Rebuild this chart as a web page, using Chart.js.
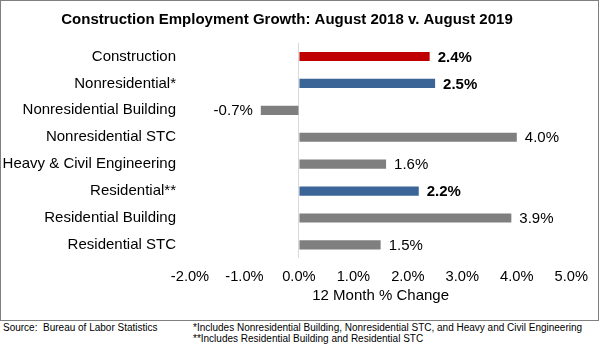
<!DOCTYPE html>
<html lang="en">

<head>
  <meta charset="UTF-8">
  <title>Construction Employment Growth</title>
  <script src="https://cdn.jsdelivr.net/npm/chart.js"></script>
  <style>
    body { margin: 0; background: #fff; font-family: Arial, 'Liberation Sans', sans-serif; }
    .chart-box { position: absolute; left: 0; top: 0; width: 597px; height: 319px; border: 1px solid #7f7f7f; }
    .note { position: absolute; font-size: 10px; line-height: 12px; color: #000; white-space: nowrap; }
  </style>
</head>

<body>
  <div class="chart-box"><canvas id="growthChart" width="597" height="319"></canvas></div>
  <div class="note" style="left: 3px; top: 322px;">Source:&nbsp; Bureau of Labor Statistics</div>
  <div class="note" style="left: 193px; top: 322px;">*Includes Nonresidential Building, Nonresidential STC, and Heavy and Civil Engineering</div>
  <div class="note" style="left: 193px; top: 333px;">**Includes Residential Building and Residential STC</div>

  <script>
    const categories = ['Construction', 'Nonresidential*', 'Nonresidential Building', 'Nonresidential STC',
      'Heavy & Civil Engineering', 'Residential**', 'Residential Building', 'Residential STC'];
    const changes = [2.4, 2.5, -0.7, 4.0, 1.6, 2.2, 3.9, 1.5];
    const groups = ['total', 'sub', 'detail', 'detail', 'detail', 'sub', 'detail', 'detail'];
    const xTicks = [-2, -1, 0, 1, 2, 3, 4, 5];

    const groupColor = { total: '#c00000', sub: '#3b6497', detail: '#7f7f7f' };
    const fontFamily = "Arial, 'Liberation Sans', sans-serif";

    // draws the % value next to each bar, bold for the totals
    const valueLabels = {
      id: 'valueLabels',
      afterDatasetsDraw(chart) {
        const ctx = chart.ctx;
        const meta = chart.getDatasetMeta(0);
        ctx.save();
        ctx.fillStyle = '#000';
        ctx.textBaseline = 'middle';
        meta.data.forEach((bar, i) => {
          const v = changes[i];
          const bold = groups[i] !== 'detail';
          ctx.font = (bold ? 'bold ' : '') + '15px ' + fontFamily;
          ctx.textAlign = v < 0 ? 'right' : 'left';
          ctx.fillText(v.toFixed(1) + '%', bar.x + (v < 0 ? -8 : 8), bar.y + 1);
        });
        ctx.restore();
      }
    };

    new Chart(document.getElementById('growthChart'), {
      type: 'bar',
      data: {
        labels: categories,
        datasets: [{
          data: changes,
          backgroundColor: groups.map(g => groupColor[g]),
          barPercentage: 0.34,
          categoryPercentage: 1
        }]
      },
      options: {
        indexAxis: 'y',
        responsive: false,
        animation: false,
        layout: { padding: { right: 25, bottom: 15 } },
        plugins: {
          legend: { display: false },
          tooltip: { enabled: false },
          title: {
            display: true,
            text: 'Construction Employment Growth: August 2018 v. August 2019',
            color: '#000',
            font: { family: fontFamily, size: 15, weight: 'bold' },
            padding: { top: 10, bottom: 14 }
          }
        },
        scales: {
          x: {
            min: xTicks[0],
            max: xTicks[xTicks.length - 1],
            afterBuildTicks: axis => { axis.ticks = xTicks.map(v => ({ value: v })); },
            ticks: {
              color: '#000',
              padding: 10,
              font: { family: fontFamily, size: 14.7 },
              callback: v => v.toFixed(1) + '%'
            },
            grid: {
              drawTicks: false,
              color: c => c.tick && c.tick.value === 0 ? '#d9d9d9' : 'transparent'
            },
            border: { display: false },
            title: {
              display: true,
              text: '12 Month % Change',
              color: '#000',
              font: { family: fontFamily, size: 15 },
              padding: { top: -9, bottom: 0 }
            }
          },
          y: {
            afterFit: axis => { axis.width = 189; },
            ticks: {
              color: '#000',
              padding: 14,
              font: { family: fontFamily, size: 15 }
            },
            grid: { display: false, drawTicks: false },
            border: { display: false }
          }
        }
      },
      plugins: [valueLabels]
    });
  </script>
</body>

</html>
